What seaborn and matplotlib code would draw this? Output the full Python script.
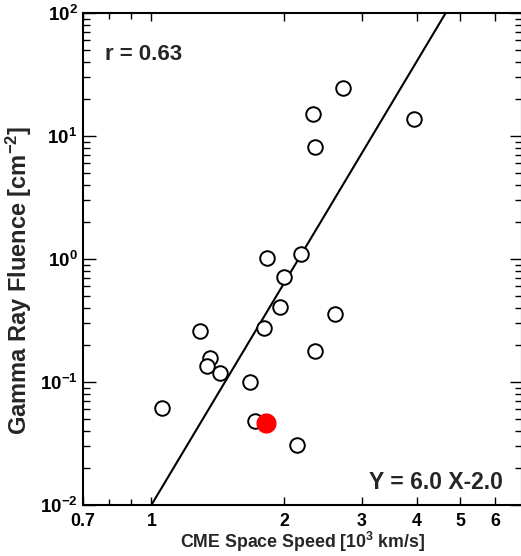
import numpy as np
import pandas as pd
import matplotlib
matplotlib.use("Agg")
import matplotlib.pyplot as plt
import seaborn as sns
from matplotlib.ticker import FixedLocator, FixedFormatter, LogLocator, NullFormatter

sns.set_theme(style="ticks")
plt.rcParams['font.family'] = ['Liberation Sans', 'DejaVu Sans']
plt.rcParams['mathtext.fontset'] = 'custom'
plt.rcParams['mathtext.rm'] = 'Liberation Sans:bold'
plt.rcParams['mathtext.bf'] = 'Liberation Sans:bold'
plt.rcParams['mathtext.default'] = 'bf'

# data (CME speed in 10^3 km/s, gamma-ray fluence in cm^-2)
speed = [1.055, 1.29, 1.355, 1.34, 1.43, 1.675, 1.72, 1.80, 1.83, 1.96,
         2.00, 2.18, 2.14, 2.35, 2.61, 2.32, 2.35, 2.72, 3.94]
fluence = [0.061, 0.26, 0.158, 0.136, 0.119, 0.100, 0.048, 0.277, 1.02, 0.41,
           0.72, 1.09, 0.031, 0.18, 0.355, 15.1, 8.1, 24.4, 13.8]
special_speed = [1.82]
special_fluence = [0.046]

fit_slope = 6.0
fit_intercept = -2.0
fit_x = [1.0, 5.0]

xticks = [0.7, 1, 2, 3, 4, 5, 6]
xticklabels = ["0.7", "1", "2", "3", "4", "5", "6"]

df = pd.DataFrame({"speed": speed, "fluence": fluence})
dfs = pd.DataFrame({"speed": special_speed, "fluence": special_fluence})
fit_y = [10 ** (fit_slope * np.log10(x) + fit_intercept) for x in fit_x]
dff = pd.DataFrame({"x": fit_x, "y": fit_y})

fig = plt.figure(figsize=(5.21, 5.56), dpi=100)
ax = fig.add_axes([0.1593, 0.0917, 0.842, 0.8849])
ax.set_xscale("log")
ax.set_yscale("log")

sns.lineplot(data=dff, x="x", y="y", ax=ax, color="black", linewidth=1.5, zorder=2)
sns.scatterplot(data=df, x="speed", y="fluence", ax=ax, s=110, marker="o",
                facecolor="white", edgecolor="black", linewidth=1.4, zorder=3)
sns.scatterplot(data=dfs, x="speed", y="fluence", ax=ax, s=210, marker="o",
                color="red", edgecolor="red", linewidth=0, zorder=4)

ax.set_xlim(0.7, 6.9)
ax.set_ylim(1e-2, 1e2)

ax.xaxis.set_major_locator(FixedLocator(xticks))
ax.xaxis.set_major_formatter(FixedFormatter(xticklabels))
ax.xaxis.set_minor_locator(FixedLocator([0.8, 0.9]))
ax.xaxis.set_minor_formatter(NullFormatter())
ax.yaxis.set_major_locator(LogLocator(base=10, numticks=10))
ax.yaxis.set_minor_locator(LogLocator(base=10, subs=np.arange(2, 10), numticks=10))
ax.yaxis.set_minor_formatter(NullFormatter())

ax.tick_params(axis="both", which="both", direction="in", top=True, right=True,
               colors="black", labelsize=13.5, width=1.0)
ax.tick_params(axis="x", which="major", length=6, pad=6, labelsize=12.8)
ax.tick_params(axis="x", which="minor", length=4)
ax.tick_params(axis="y", which="major", length=9, pad=4)
ax.tick_params(axis="y", which="minor", length=5)
for lab in ax.get_xticklabels() + ax.get_yticklabels():
    lab.set_fontweight("bold")

for sp in ax.spines.values():
    sp.set_color("black")
    sp.set_linewidth(1.5)

ax.set_xlabel("CME Space Speed [10$^{3}$ km/s]", fontsize=12.8)
ax.set_ylabel("Gamma Ray Fluence [cm$^{-2}$]", fontsize=17)
ax.xaxis.label.set_fontweight("bold")
ax.xaxis.label.set_va("bottom")
ax.yaxis.label.set_fontweight("bold")
ax.xaxis.set_label_coords(0.50, -0.1005)
ax.yaxis.set_label_coords(-0.112, 0.457)

ax.text(0.05, 0.915, "r = 0.63", transform=ax.transAxes, fontsize=16,
        fontweight="bold", ha="left", va="center")
ax.text(0.957, 0.045, "Y = 6.0 X-2.0", transform=ax.transAxes, fontsize=16.5,
        fontweight="bold", ha="right", va="center")

fig.savefig("out.png", dpi=100)
